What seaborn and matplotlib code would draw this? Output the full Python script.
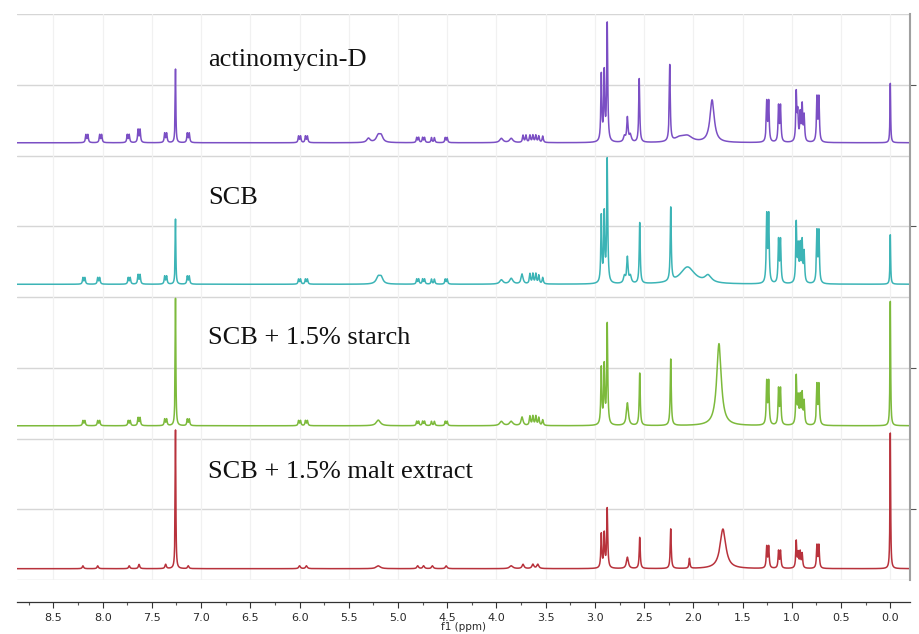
import numpy as np
import pandas as pd
import matplotlib
matplotlib.use("Agg")
import matplotlib.pyplot as plt
import seaborn as sns
from matplotlib.ticker import MultipleLocator, FormatStrFormatter

# ---- peak lists (ppm, height in panel units, half-width in ppm) ----
act_ppm = [8.17, 8.15, 8.03, 8.01, 7.75, 7.73, 7.64, 7.62, 7.37, 7.35, 7.26, 7.14, 7.12,
           6.01, 5.99, 5.94, 5.92, 5.30, 5.20, 5.17,
           4.81, 4.79, 4.75, 4.73, 4.66, 4.63, 4.52, 4.50,
           3.95, 3.85, 3.73, 3.70, 3.66, 3.63, 3.60, 3.57, 3.53,
           2.935, 2.905, 2.875, 2.70, 2.67, 2.64, 2.55, 2.24, 2.14, 2.06, 1.81,
           1.255, 1.235, 1.135, 1.115, 0.955, 0.94, 0.915, 0.895, 0.875, 0.745, 0.725, 0.0]
act_h = [0.055, 0.055, 0.055, 0.055, 0.055, 0.055, 0.09, 0.09, 0.065, 0.065, 0.52, 0.065, 0.065,
         0.045, 0.045, 0.045, 0.045, 0.03, 0.05, 0.04,
         0.035, 0.035, 0.035, 0.035, 0.035, 0.035, 0.035, 0.035,
         0.03, 0.03, 0.05, 0.05, 0.05, 0.05, 0.05, 0.045, 0.045,
         0.47, 0.48, 0.83, 0.04, 0.17, 0.05, 0.45, 0.54, 0.03, 0.04, 0.30,
         0.28, 0.28, 0.25, 0.25, 0.34, 0.19, 0.19, 0.25, 0.18, 0.31, 0.31, 0.42]
act_w = [0.006] * 10 + [0.004] + [0.006] * 6 + [0.02, 0.025, 0.02] + [0.006] * 8 + \
        [0.02, 0.02] + [0.007] * 7 + \
        [0.006, 0.006, 0.006, 0.012, 0.008, 0.012, 0.006, 0.006, 0.06, 0.06, 0.026] + \
        [0.006] * 11 + [0.004]

scb_ppm = [8.20, 8.18, 8.05, 8.03, 7.74, 7.72, 7.64, 7.62, 7.37, 7.35, 7.26, 7.14, 7.12,
           6.01, 5.99, 5.94, 5.92, 5.20, 5.17,
           4.81, 4.79, 4.75, 4.73, 4.66, 4.63, 4.52, 4.50,
           3.95, 3.85, 3.74, 3.66, 3.63, 3.60, 3.57, 3.53,
           2.935, 2.905, 2.875, 2.70, 2.67, 2.64, 2.545, 2.23, 2.06, 1.85,
           1.255, 1.235, 1.135, 1.115, 0.955, 0.935, 0.915, 0.895, 0.875, 0.745, 0.725, 0.0]
scb_h = [0.045, 0.045, 0.045, 0.045, 0.045, 0.045, 0.065, 0.065, 0.055, 0.055, 0.46, 0.055, 0.055,
         0.035, 0.035, 0.035, 0.035, 0.05, 0.04,
         0.035, 0.035, 0.035, 0.035, 0.035, 0.035, 0.035, 0.035,
         0.03, 0.04, 0.07, 0.07, 0.07, 0.07, 0.06, 0.045,
         0.47, 0.48, 0.87, 0.05, 0.18, 0.05, 0.43, 0.52, 0.12, 0.05,
         0.47, 0.47, 0.30, 0.30, 0.42, 0.24, 0.25, 0.28, 0.21, 0.36, 0.36, 0.35]
scb_w = [0.006] * 10 + [0.004] + [0.006] * 6 + [0.025, 0.02] + [0.006] * 8 + \
        [0.02, 0.02, 0.012] + [0.007] * 5 + \
        [0.006, 0.006, 0.006, 0.012, 0.008, 0.012, 0.006, 0.006, 0.09, 0.04] + \
        [0.006] * 11 + [0.004]

sta_ppm = [8.20, 8.18, 8.05, 8.03, 7.74, 7.72, 7.64, 7.62, 7.37, 7.35, 7.26, 7.14, 7.12,
           6.01, 5.99, 5.94, 5.92, 5.20,
           4.81, 4.79, 4.75, 4.73, 4.66, 4.63, 4.52, 4.50,
           3.95, 3.85, 3.74, 3.66, 3.63, 3.60, 3.57, 3.53,
           2.935, 2.905, 2.875, 2.67, 2.545, 2.23, 1.74,
           1.255, 1.235, 1.135, 1.115, 0.955, 0.935, 0.915, 0.895, 0.875, 0.745, 0.725, 0.0]
sta_h = [0.035, 0.035, 0.035, 0.035, 0.035, 0.035, 0.055, 0.055, 0.045, 0.045, 0.90, 0.045, 0.045,
         0.035, 0.035, 0.035, 0.035, 0.04,
         0.03, 0.03, 0.03, 0.03, 0.03, 0.03, 0.03, 0.03,
         0.03, 0.03, 0.06, 0.065, 0.065, 0.065, 0.055, 0.04,
         0.40, 0.41, 0.71, 0.16, 0.37, 0.47, 0.58,
         0.30, 0.30, 0.25, 0.25, 0.34, 0.18, 0.19, 0.21, 0.16, 0.28, 0.28, 0.88]
sta_w = [0.006] * 10 + [0.004] + [0.006] * 6 + [0.025] + [0.006] * 8 + \
        [0.02, 0.02, 0.012] + [0.007] * 5 + \
        [0.006, 0.006, 0.006, 0.012, 0.006, 0.006, 0.028] + [0.006] * 11 + [0.004]

mal_ppm = [8.20, 8.05, 7.73, 7.63, 7.36, 7.26, 7.13,
           6.00, 5.93, 5.20, 4.80, 4.74, 4.65, 4.51,
           3.85, 3.73, 3.63, 3.58,
           2.935, 2.905, 2.875, 2.67, 2.545, 2.23, 2.04, 1.70,
           1.255, 1.235, 1.135, 1.115, 0.955, 0.935, 0.915, 0.895, 0.745, 0.725, 0.0]
mal_h = [0.02, 0.02, 0.02, 0.03, 0.03, 0.98, 0.02,
         0.02, 0.02, 0.02, 0.02, 0.02, 0.02, 0.02,
         0.02, 0.03, 0.03, 0.03,
         0.24, 0.24, 0.42, 0.08, 0.22, 0.28, 0.07, 0.28,
         0.15, 0.15, 0.12, 0.12, 0.19, 0.10, 0.11, 0.10, 0.16, 0.16, 0.96]
mal_w = [0.008] * 5 + [0.004, 0.008] + [0.01] * 2 + [0.025] + [0.01] * 4 + \
        [0.02, 0.012, 0.012, 0.012] + [0.006, 0.006, 0.006, 0.012, 0.006, 0.006, 0.006, 0.035] + \
        [0.006] * 10 + [0.004]

labels = ["actinomycin-D", "SCB", "SCB + 1.5% starch", "SCB + 1.5% malt extract"]
colors = ["#7b4fc4", "#3cb4b6", "#7dba3c", "#b8323c"]
offsets = [3.09, 2.09, 1.09, 0.08]
label_y = [3.63, 2.66, 1.67, 0.72]

x_ticks = [8.5, 8.0, 7.5, 7.0, 6.5, 6.0, 5.5, 5.0, 4.5, 4.0, 3.5, 3.0, 2.5, 2.0, 1.5, 1.0, 0.5, 0.0]


def spectrum(grid, ppm, h, w):
    ppm = np.asarray(ppm)[:, None]
    h = np.asarray(h)[:, None]
    w = np.asarray(w)[:, None]
    return (h * w ** 2 / ((grid[None, :] - ppm) ** 2 + w ** 2)).sum(axis=0)


grid = np.linspace(-0.2, 8.9, 24000)
peaks = [(act_ppm, act_h, act_w), (scb_ppm, scb_h, scb_w),
         (sta_ppm, sta_h, sta_w), (mal_ppm, mal_h, mal_w)]

frames = []
for name, off, (p, h, w) in zip(labels, offsets, peaks):
    frames.append(pd.DataFrame({"ppm": grid,
                                "intensity": spectrum(grid, p, h, w) + off,
                                "sample": name}))
df = pd.concat(frames, ignore_index=True)

sns.set_theme(style="white")
fig = plt.figure(figsize=(9.2, 6.34), dpi=100)
ax = fig.add_axes([17 / 920, 1 - 580 / 634, (910 - 17) / 920, (580 - 14) / 634])

# panel grid lines
for yv in np.arange(0, 4.01, 0.5):
    ax.axhline(yv, color="#d6d6d6", lw=1.0, zorder=0)
for xv in x_ticks:
    ax.axvline(xv, color="#f1f1f1", lw=0.9, zorder=0)

sns.lineplot(data=df, x="ppm", y="intensity", hue="sample", palette=colors,
             hue_order=labels, estimator=None, sort=False, lw=1.1, legend=False, ax=ax)

for name, yv in zip(labels, label_y):
    ax.text(6.93, yv, name, ha="left", va="baseline", fontsize=19,
            family="Liberation Serif", color="#111111")

ax.set_xlim(8.87, -0.2)
ax.set_ylim(0, 4)

for s in ["left", "top"]:
    ax.spines[s].set_visible(False)
ax.spines["right"].set_color("#a0a0a0")
ax.spines["right"].set_linewidth(1.5)
ax.spines["bottom"].set_position(("outward", 15.8))
ax.spines["bottom"].set_color("#333333")
ax.spines["bottom"].set_linewidth(0.9)

ax.xaxis.set_major_locator(MultipleLocator(0.5))
ax.xaxis.set_minor_locator(MultipleLocator(0.25))
ax.xaxis.set_major_formatter(FormatStrFormatter("%.1f"))
ax.tick_params(axis="x", which="major", direction="out", length=4, width=0.8,
               color="#333333", labelsize=8, labelcolor="#2a2a2a", pad=4, bottom=True)
ax.tick_params(axis="x", which="minor", direction="out", length=2, width=0.8,
               color="#555555", bottom=True)
ax.set_xlabel("f1 (ppm)", fontsize=7.5, color="#2a2a2a", labelpad=-1)

ax.yaxis.tick_right()
ax.set_yticks([0.5, 1.5, 2.5, 3.5])
ax.set_yticklabels([])
ax.tick_params(axis="y", which="major", direction="out", length=4, width=0.8,
               color="#555555", right=True, left=False)
ax.set_ylabel("")

fig.savefig("out.png", dpi=100)
